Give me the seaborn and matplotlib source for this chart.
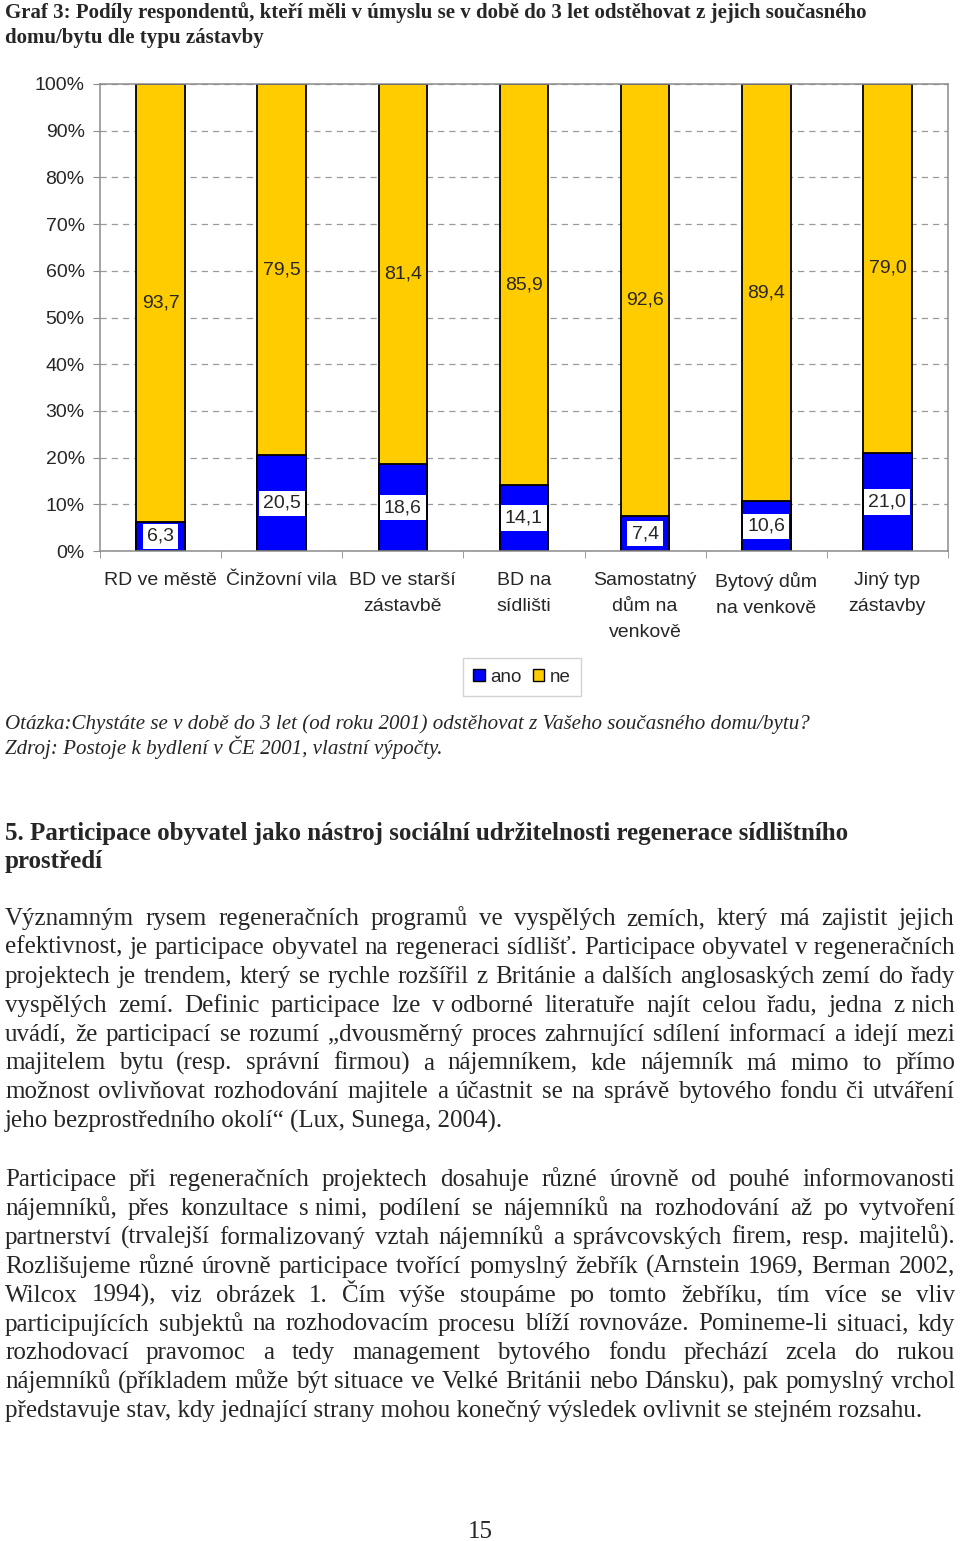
import numpy as np
import pandas as pd
import seaborn as sns
import matplotlib.pyplot as plt
from matplotlib.patches import Patch

# data
categories = ['RD ve městě', 'Činžovní vila', 'BD ve starší\nzástavbě', 'BD na\nsídlišti',
              'Samostatný\ndům na\nvenkově', 'Bytový dům\nna venkově', 'Jiný typ\nzástavby']
ano = [6.3, 20.5, 18.6, 14.1, 7.4, 10.6, 21.0]
ne = [93.7, 79.5, 81.4, 85.9, 92.6, 89.4, 79.0]
y_ticks = list(range(0, 101, 10))

title_lines = ['Graf 3: Podíly respondentů, kteří měli v úmyslu se v době do 3 let odstěhovat z jejich současného',
               'domu/bytu dle typu zástavby']
note_lines = ['Otázka:Chystáte se v době do 3 let (od roku 2001) odstěhovat z Vašeho současného domu/bytu?',
              'Zdroj: Postoje k bydlení v ČE 2001, vlastní výpočty.']
heading_lines = ['5. Participace obyvatel jako nástroj sociální udržitelnosti regenerace sídlištního',
                 'prostředí']
para1 = ['Významným rysem regeneračních programů ve vyspělých zemích, který má zajistit jejich',
         'efektivnost, je participace obyvatel na regeneraci sídlišť. Participace obyvatel v\u00a0regeneračních',
         'projektech je trendem, který se rychle rozšířil z Británie a dalších anglosaských zemí do řady',
         'vyspělých zemí. Definic participace lze v\u00a0odborné literatuře najít celou řadu, jedna z\u00a0nich',
         'uvádí, že participací se rozumí „dvousměrný proces zahrnující sdílení informací a idejí mezi',
         'majitelem bytu (resp. správní firmou) a nájemníkem, kde nájemník má mimo to přímo',
         'možnost ovlivňovat rozhodování majitele a účastnit se na správě bytového fondu či utváření',
         'jeho bezprostředního okolí“ (Lux, Sunega, 2004).']
para2 = ['Participace při regeneračních projektech dosahuje různé úrovně od pouhé informovanosti',
         'nájemníků, přes konzultace s\u00a0nimi, podílení se nájemníků na rozhodování až po vytvoření',
         'partnerství (trvalejší formalizovaný vztah nájemníků a správcovských firem, resp. majitelů).',
         'Rozlišujeme různé úrovně participace tvořící pomyslný žebřík (Arnstein 1969, Berman 2002,',
         'Wilcox 1994), viz obrázek 1. Čím výše stoupáme po tomto žebříku, tím více se vliv',
         'participujících subjektů na rozhodovacím procesu blíží rovnováze. Pomineme-li situaci, kdy',
         'rozhodovací pravomoc a tedy management bytového fondu přechází zcela do rukou',
         'nájemníků (příkladem může být situace ve Velké Británii nebo Dánsku), pak pomyslný vrchol',
         'představuje stav, kdy jednající strany mohou konečný výsledek ovlivnit se stejném rozsahu.']
page_number = '15'

sns.set_style('white')
plt.rcParams['font.family'] = ['Liberation Sans', 'DejaVu Sans']
SERIF = ['Liberation Serif', 'DejaVu Serif']
BLUE, YELLOW = '#0000FF', '#FFCC00'
FS = 14

W, H = 960, 1541
fig = plt.figure(figsize=(W / 100, H / 100), dpi=100)
ax = fig.add_axes([100 / W, 1 - 551 / H, 848 / W, 467 / H])

df = pd.DataFrame({'typ': categories, 'ano': ano, 'ne': ne})
df['celkem'] = df['ano'] + df['ne']

sns.barplot(data=df, x='typ', y='celkem', color=YELLOW, saturation=1, width=0.4,
            edgecolor='black', linewidth=1.3, errorbar=None, ax=ax)
sns.barplot(data=df, x='typ', y='ano', color=BLUE, saturation=1, width=0.4,
            edgecolor='black', linewidth=1.3, errorbar=None, ax=ax)

fmt = lambda v: f'{v:.1f}'.replace('.', ',')
for i, (a, n) in enumerate(zip(ano, ne)):
    ax.text(i, a / 2, fmt(a), ha='center', va='center', fontsize=FS,
            bbox=dict(facecolor='white', edgecolor='none', pad=3))
    ax.text(i, a + n / 2, fmt(n), ha='center', va='center', fontsize=FS)

ax.set_xlim(-0.5, len(categories) - 0.5)
ax.set_ylim(0, 100)
ax.set_yticks(y_ticks)
ax.set_yticklabels([f'{t}%' for t in y_ticks])
ax.set_xticks(np.arange(-0.5, len(categories), 1), minor=True)
ax.set_xlabel('')
ax.set_ylabel('')
ax.set_axisbelow(True)
ax.grid(axis='y', linestyle=(0, (5, 4)), color='#9a9a9a', linewidth=0.9)
for s in ax.spines.values():
    s.set_color('#8c8c8c')
    s.set_linewidth(1.1)
ax.tick_params(axis='y', left=True, length=5, color='#8c8c8c', pad=6, labelsize=FS)
ax.tick_params(axis='x', which='major', length=0, pad=15, labelsize=FS)
ax.tick_params(axis='x', which='minor', bottom=True, length=5, color='#8c8c8c')
for lbl in ax.get_xticklabels():
    lbl.set_linespacing(1.7)

handles = [Patch(facecolor=BLUE, edgecolor='black'), Patch(facecolor=YELLOW, edgecolor='black')]
fig.legend(handles, ['ano', 'ne'], loc='center', bbox_to_anchor=(522 / W, 1 - 677 / H),
           ncol=2, frameon=True, fancybox=False, edgecolor='#c8c8c8', fontsize=13.5,
           handlelength=0.6, handleheight=0.6, handletextpad=0.3, columnspacing=0.6,
           borderpad=0.55, borderaxespad=0)


def put(x, y, s, **kw):
    return fig.text(x / W, 1 - y / H, s, va='baseline', family=SERIF, **kw)


renderer = fig.canvas.get_renderer()


def justified(lines, y0, lead, size, x0=5, x1=955):
    for k, line in enumerate(lines):
        y = y0 + k * lead
        if k == len(lines) - 1:
            put(x0, y, line, fontsize=size)
            continue
        words = line.split(' ')
        texts = [put(x0, y, w, fontsize=size) for w in words]
        widths = [t.get_window_extent(renderer).width for t in texts]
        gap = (x1 - x0 - sum(widths)) / (len(words) - 1)
        x = x0
        for t, wd in zip(texts, widths):
            t.set_x(x / W)
            x += wd + gap


for k, line in enumerate(title_lines):
    put(5, 18 + 25 * k, line, fontsize=15, fontweight='bold')
for k, line in enumerate(note_lines):
    put(5, 729 + 25 * k, line, fontsize=15.1, style='italic')
for k, line in enumerate(heading_lines):
    put(5, 840 + 28 * k, line, fontsize=18, fontweight='bold')
justified(para1, 925, 28.9, 18)
justified(para2, 1186, 28.9, 18)
put(480, 1538, page_number, fontsize=18, ha='center')

fig.savefig('out.png', dpi=100, facecolor='white')
